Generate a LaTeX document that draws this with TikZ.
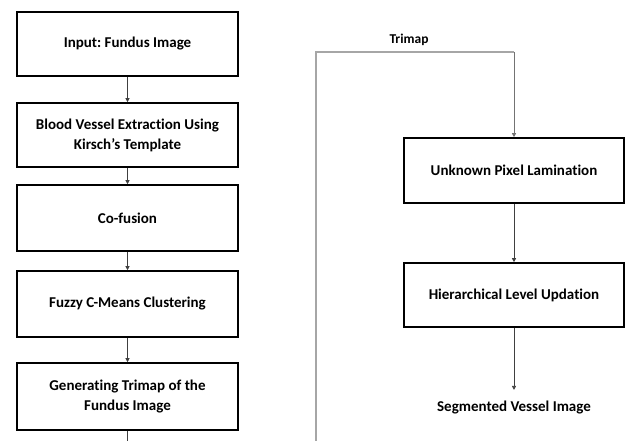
\documentclass[tikz,border=0pt]{standalone}
\usepackage{fontspec}
\setmainfont{Carlito}[Ligatures={NoCommon}]
\frenchspacing
\usetikzlibrary{arrows.meta}
\begin{document}
\begin{tikzpicture}[x=1pt,y=-1pt,
  stepbox/.style={draw=black,line width=1.6pt,minimum width=221pt,align=center,font=\bfseries\fontsize{15}{20}\selectfont,inner sep=0pt},
  conn/.style={draw=black!75,line width=0.7pt,-{Triangle[length=4pt,width=4pt]}},
  gconn/.style={draw=black!35,line width=1.3pt}]
\useasboundingbox (0,0) rectangle (627,441);
\node[stepbox,minimum height=64pt] (b1) at (127.5,44) {Input: Fundus Image};
\node[stepbox,minimum height=64pt] (b2) at (127.5,135) {Blood Vessel Extraction Using\\Kirsch’s Template};
\node[stepbox,minimum height=66pt] (b3) at (127.5,218) {Co-fusion};
\node[stepbox,minimum height=66pt] (b4) at (127.5,304) {Fuzzy C-Means Clustering};
\node[stepbox,minimum height=67pt] (b5) at (127.5,396.5) {Generating Trimap of the\\Fundus Image};
\node[stepbox,minimum height=65pt,minimum width=220pt] (r1) at (514,170.5) {Unknown Pixel Lamination};
\node[stepbox,minimum height=64pt,minimum width=220pt] (r2) at (514,295) {Hierarchical Level Updation};
\node[font=\bfseries\fontsize{15}{20}\selectfont] (out) at (514,408) {Segmented Vessel Image};
\node[font=\bfseries\fontsize{13.5}{16}\selectfont] (tri) at (409,40) {Trimap};
\coordinate (bot) at (127.5,441);
\coordinate (gb) at (316,441);
\coordinate (gt) at (316,52);
\coordinate (rt) at (514,52);
\draw[conn] (b1) -- (b2);
\draw[conn] (b2) -- (b3);
\draw[conn] (b3) -- (b4);
\draw[conn] (b4) -- (b5);
\draw[draw=black!75,line width=0.7pt] (b5) -- (bot);
\draw[gconn] (gb) -- (gt) -- (rt);
\draw[conn,draw=black!55] (rt) -- (r1);
\draw[conn] (r1) -- (r2);
\draw[conn,shorten >=8pt] (r2) -- (out);
\end{tikzpicture}
\end{document}
